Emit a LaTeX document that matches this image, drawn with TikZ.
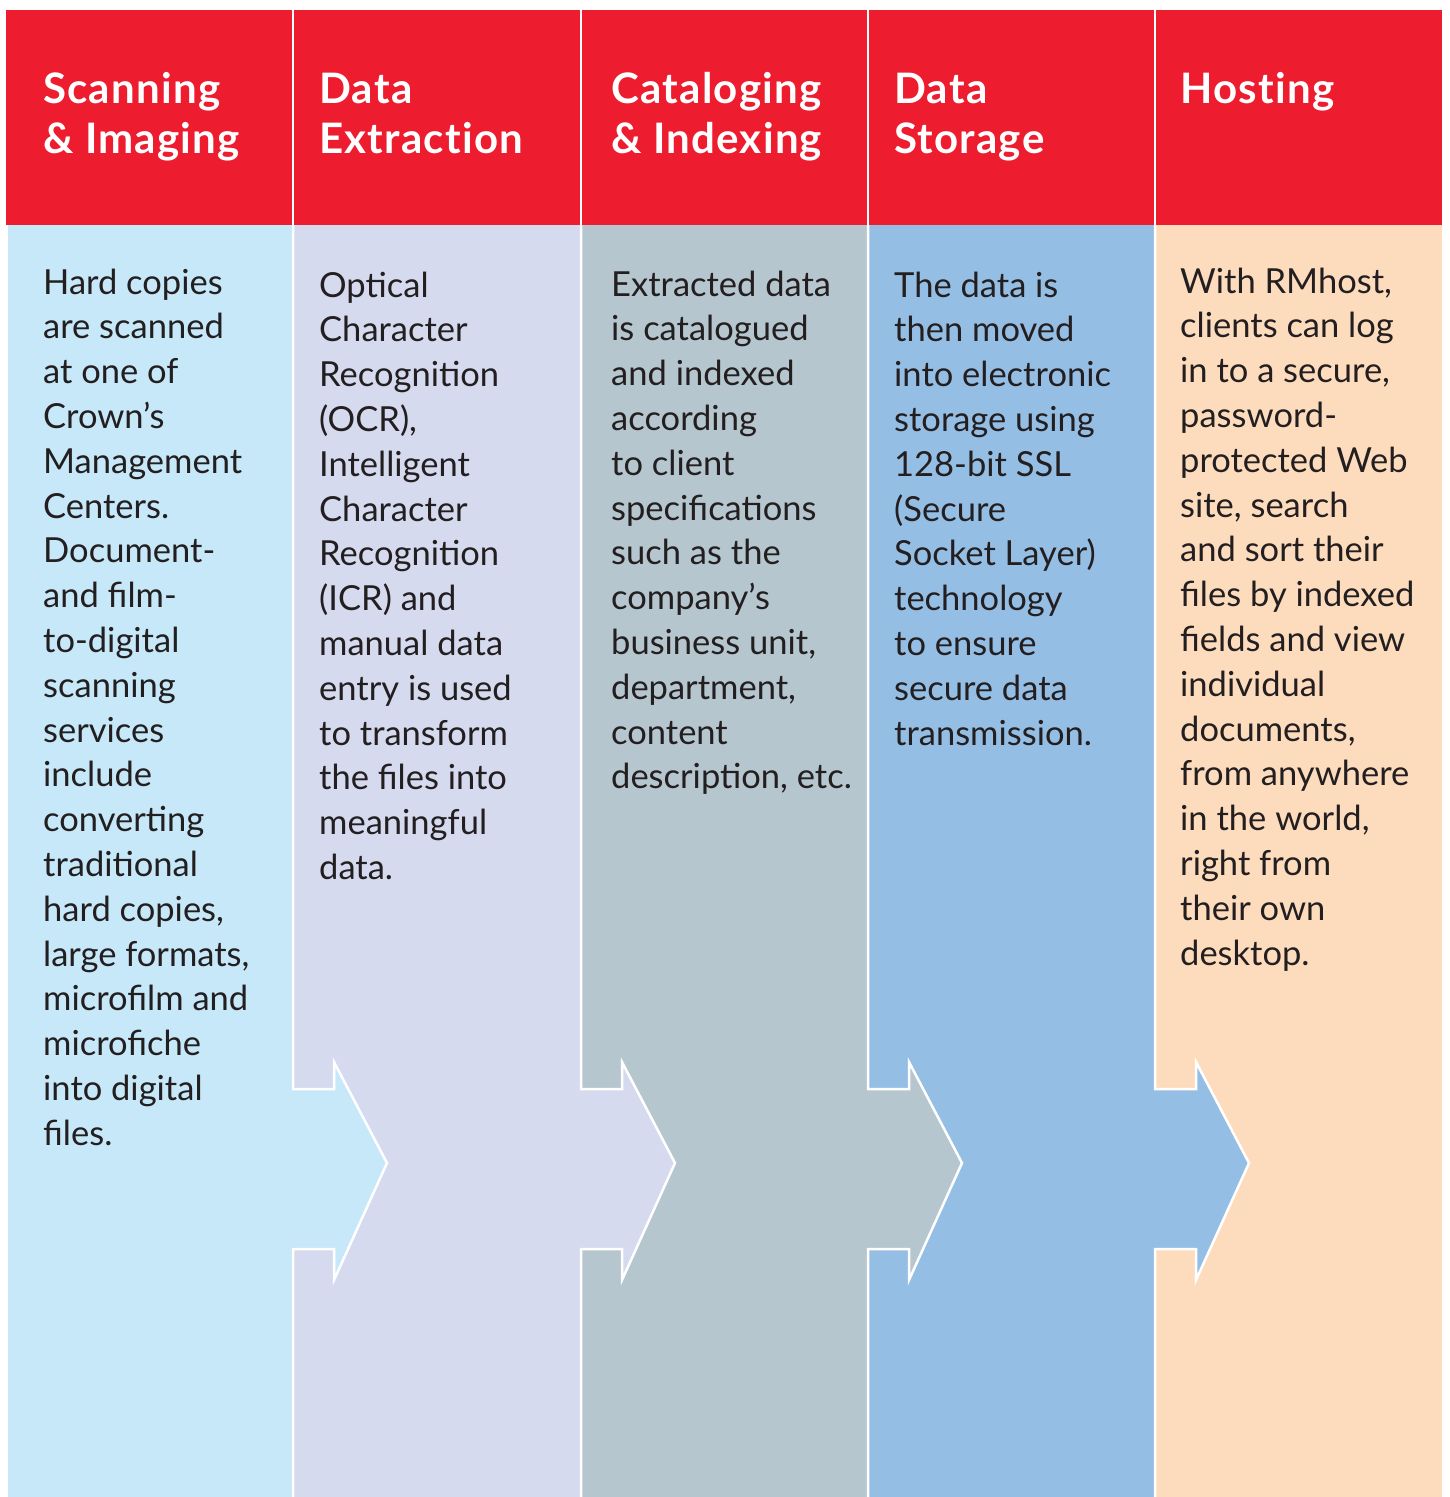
\documentclass[tikz,border=0pt]{standalone}
\usepackage{fontspec}
\setmainfont{Lato}
\definecolor{hdrred}{HTML}{ED1C2E}
\definecolor{colA}{HTML}{C6E8F8}
\definecolor{colB}{HTML}{D5DAEF}
\definecolor{colC}{HTML}{B5C6CF}
\definecolor{colD}{HTML}{95BEE5}
\definecolor{colE}{HTML}{FDDCBE}
\definecolor{ink}{HTML}{231F20}
% stack of lines, baseline = baseline of the first line
\newcommand\linestack[2]{\vtop{\baselineskip=#1\lineskip=0pt\lineskiplimit=-\maxdimen
  \let\\\cr\halign{##\hfil\cr#2\crcr}}}
\tikzset{
  hdrtext/.style={anchor=base west, inner sep=0pt, text=white,
    font=\fontsize{42}{50}\selectfont\bfseries\addfontfeatures{LetterSpace=3,Ligatures=NoCommon}},
  bodytext/.style={anchor=base west, inner sep=0pt, text=ink,
    font=\fontsize{34.5}{44.8}\selectfont},
  sepline/.style={draw=white, line width=2.5pt, line join=miter},
}
\begin{document}
\begin{tikzpicture}[x=1pt,y=-1pt]
\useasboundingbox[fill=white] (0,0) rectangle (1449,1497);
% header band
\fill[hdrred] (6,10) rectangle (1442,225);
% body columns
\fill[colA] (8,225) rectangle (293,1497);
\fill[colB] (293,225) rectangle (581,1497);
\fill[colC] (581,225) rectangle (868,1497);
\fill[colD] (868,225) rectangle (1155,1497);
\fill[colE] (1155,225) rectangle (1442,1497);
% header separators
\foreach \b in {293,581,868,1155}
  \draw[white, line width=2.5pt] (\b,10) -- (\b,225);
% chevron arrows pointing into the next column
\foreach \b/\c in {293/colA,581/colB,868/colC,1155/colD}{
  \fill[\c] (\b,1089) -- (\b+41,1089) -- (\b+41,1062) -- (\b+94,1163)
     -- (\b+41,1280) -- (\b+41,1249) -- (\b,1249) -- cycle;
  \draw[sepline] (\b,225) -- (\b,1089) -- (\b+41,1089) -- (\b+41,1062)
     -- (\b+94,1163) -- (\b+41,1280) -- (\b+41,1249) -- (\b,1249) -- (\b,1497);
}
% headings
\node[hdrtext] (hdr1) at (43,103) {\linestack{50pt}{Scanning\\\& Imaging}};
\node[hdrtext] (hdr2) at (319,103) {\linestack{50pt}{Data\\Extraction}};
\node[hdrtext] (hdr3) at (611,103) {\linestack{50pt}{Cataloging\\\& Indexing}};
\node[hdrtext] (hdr4) at (894,103) {\linestack{50pt}{Data\\Storage}};
\node[hdrtext] (hdr5) at (1180,103) {\linestack{50pt}{Hosting}};
% descriptions
\node[bodytext] (txt1) at (43,294) {\linestack{44.8pt}{Hard copies\\are scanned\\at one of\\Crown’s\\Management\\Centers.\\Document-\\and film-\\to-digital\\scanning\\services\\include\\converting\\traditional\\hard copies,\\large formats,\\microfilm and\\microfiche\\into digital\\files.}};
\node[bodytext] (txt2) at (319,297) {\linestack{44.8pt}{Optical\\Character\\Recognition\\(OCR),\\Intelligent\\Character\\Recognition\\(ICR) and\\manual data\\entry is used\\to transform\\the files into\\meaningful\\data.}};
\node[bodytext] (txt3) at (611,296) {\linestack{44.8pt}{Extracted data\\is catalogued\\and indexed\\according\\to client\\specifications\\such as the\\company’s\\business unit,\\department,\\content\\description, etc.}};
\node[bodytext] (txt4) at (894,297) {\linestack{44.8pt}{The data is\\then moved\\into electronic\\storage using\\128-bit SSL\\(Secure\\Socket Layer)\\technology\\to ensure\\secure data\\transmission.}};
\node[bodytext] (txt5) at (1180,293) {\linestack{44.8pt}{With RMhost,\\clients can log\\in to a secure,\\password-\\protected Web\\site, search\\and sort their\\files by indexed\\fields and view\\individual\\documents,\\from anywhere\\in the world,\\right from\\their own\\desktop.}};
\end{tikzpicture}
\end{document}
